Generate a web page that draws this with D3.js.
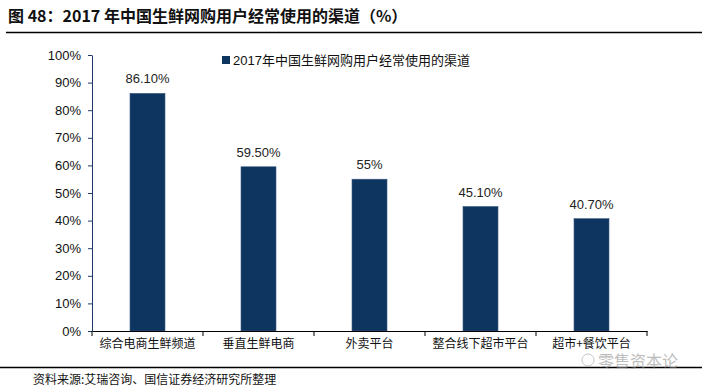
<!DOCTYPE html>
<html>
<head>
<meta charset="utf-8">
<script src="https://cdn.jsdelivr.net/npm/d3@7"></script>
<style>
  body{margin:0;background:#fff;}
  svg{display:block;font-family:Arial,"Liberation Sans","Noto Sans CJK SC",sans-serif;}
</style>
</head>
<body>
<svg id="chart" width="708" height="390"></svg>
<script>
const categories = ['综合电商生鲜频道','垂直生鲜电商','外卖平台','整合线下超市平台','超市+餐饮平台'];
const values = [86.1, 59.5, 55, 45.1, 40.7];
const valueLabels = ['86.10%','59.50%','55%','45.10%','40.70%'];
const yTicks = [0,10,20,30,40,50,60,70,80,90,100];
const seriesName = '2017年中国生鲜网购用户经常使用的渠道';

const svg = d3.select('#chart');
const cjk = '"Noto Sans CJK SC",sans-serif';
const barColor = '#0e3560';

// title + rules
svg.append('text').attr('x',8).attr('y',22).attr('font-size',16).attr('font-weight','bold')
  .attr('font-family',cjk).attr('fill','#111')
  .text('图 48：2017 年中国生鲜网购用户经常使用的渠道（%）');
svg.append('line').attr('x1',6).attr('x2',702).attr('y1',32.5).attr('y2',32.5).attr('stroke','#000').attr('stroke-width',1.5);
svg.append('line').attr('x1',0).attr('x2',702).attr('y1',367.5).attr('y2',367.5).attr('stroke','#000').attr('stroke-width',1.5);
svg.append('text').attr('x',33).attr('y',384).attr('font-size',12).attr('font-family',cjk).attr('fill','#111')
  .text('资料来源:艾瑞咨询、国信证券经济研究所整理');

const margin = {left:92, top:55, right:61, bottom:59};
const x = d3.scaleBand().domain(categories).range([margin.left, 708-margin.right]).paddingInner(0).paddingOuter(0);
const y = d3.scaleLinear().domain([0,100]).range([331, margin.top]);

// y axis
const ya = svg.append('g').attr('transform',`translate(${margin.left},0)`)
  .call(d3.axisLeft(y).tickValues(yTicks).tickFormat(d=>d+'%').tickSize(4).tickSizeOuter(0));
ya.select('.domain').attr('stroke','#1f3a68');
ya.selectAll('.tick line').attr('stroke','#1f3a68');
ya.selectAll('.tick text').attr('font-size',13).attr('fill','#111').attr('x',-11);

// bars
const bw = 35;
svg.append('g').selectAll('rect').data(values).join('rect')
  .attr('x',(d,i)=>x(categories[i])+x.bandwidth()/2-bw/2)
  .attr('y',d=>y(d)).attr('width',bw).attr('height',d=>y(0)-y(d))
  .attr('fill',barColor).attr('stroke','#3c5a80').attr('stroke-width',0.6);

svg.append('g').selectAll('text').data(values).join('text')
  .attr('x',(d,i)=>x(categories[i])+x.bandwidth()/2)
  .attr('y',d=>y(d)-10).attr('text-anchor','middle').attr('font-size',13).attr('fill','#222')
  .text((d,i)=>valueLabels[i]);

// x axis
const xa = svg.append('g').attr('transform',`translate(0,${y(0)})`)
  .call(d3.axisBottom(x).tickSize(0).tickSizeOuter(0));
xa.select('.domain').attr('stroke','#000').attr('stroke-width',1.2);
xa.selectAll('.tick text').attr('font-size',12).attr('font-family',cjk).attr('fill','#111').attr('dy',0).attr('y',17);
xa.selectAll('.sep').data(d3.range(categories.length+1)).join('line').attr('class','sep')
  .attr('x1',i=>margin.left+i*x.step()).attr('x2',i=>margin.left+i*x.step())
  .attr('y1',0).attr('y2',5).attr('stroke','#000');

// legend
const lg = svg.append('g').attr('transform','translate(222,54)');
lg.append('rect').attr('width',8).attr('height',8).attr('y',2).attr('fill',barColor);
lg.append('text').attr('x',11).attr('y',11).attr('font-size',13).attr('fill','#111').text(seriesName);

// watermark
const wm = svg.append('g').attr('opacity',0.55);
wm.append('circle').attr('cx',588).attr('cy',360).attr('r',6).attr('fill','none').attr('stroke','#999');
wm.append('text').attr('x',598).attr('y',367).attr('font-size',16).attr('font-family',cjk).attr('fill','#888').text('零售资本论');
</script>
</body>
</html>
